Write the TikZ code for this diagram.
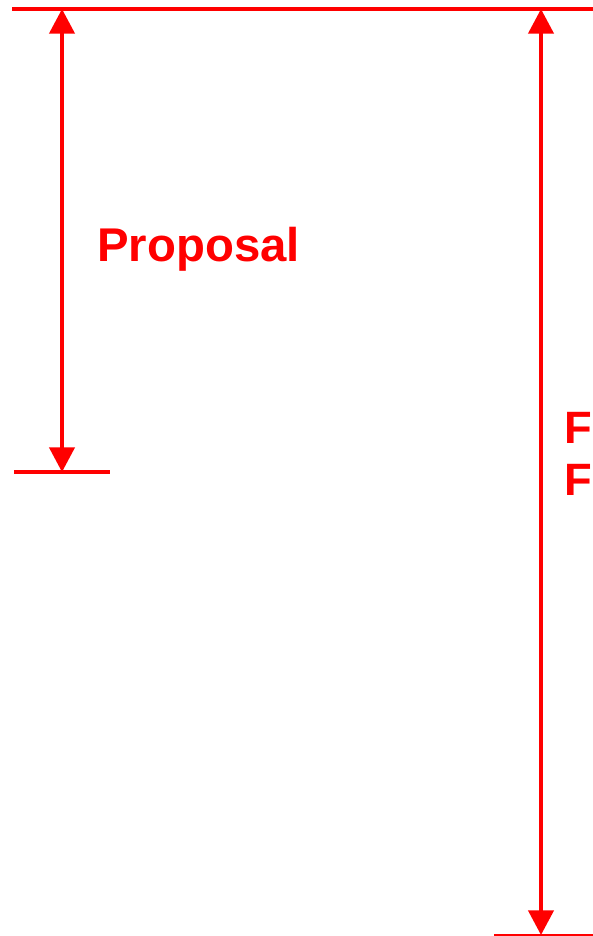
\documentclass[tikz,border=0pt]{standalone}
\usepackage{fontspec}
\setmainfont{Liberation Sans}
\usetikzlibrary{arrows.meta}
\definecolor{dimred}{RGB}{255,0,0}
\tikzset{
  dimline/.style={draw=dimred, line width=3pt},
  dimarrow/.style={draw=dimred, line width=3.6pt, {Triangle[width=18.5pt,length=18.5pt]}-{Triangle[width=18.5pt,length=18.5pt]}, shorten <=-0.1pt, shorten >=-0.1pt},
  dimlabel/.style={text=dimred, font=\fontsize{35.5}{40}\selectfont\bfseries, inner sep=0pt, anchor=base west},
  sidelabel/.style={dimlabel, font=\fontsize{34}{39}\selectfont\bfseries}
}
\begin{document}
\begin{tikzpicture}[x=0.75pt, y=-0.75pt]
\useasboundingbox (0,0) rectangle (593,936);
\begin{scope}
\clip (0,0) rectangle (593,936);
% reference lines
\coordinate (topL) at (12,9);
\coordinate (topR) at (600,9);
\coordinate (midL) at (14,472);
\coordinate (midR) at (110,472);
\coordinate (botL) at (494,935);
\coordinate (botR) at (600,935);
\draw[dimline] (topL) -- (topR);
\draw[dimline] (midL) -- (midR);
\draw[draw=dimred, line width=1.3pt] (botL) -- (botR);
% dimension arrows
\coordinate (a1s) at (62,9);
\coordinate (a1e) at (62,472);
\coordinate (a2s) at (541,9);
\coordinate (a2e) at (541,935);
\draw[dimarrow] (a1s) -- (a1e);
\draw[dimarrow] (a2s) -- (a2e);
% labels
\node[dimlabel] (prop) at (97,261) {Proposal};
\node[sidelabel] (fa) at (564,443) {Fi};
\node[sidelabel] (fb) at (564,495) {Fi};
\end{scope}
\end{tikzpicture}
\end{document}
